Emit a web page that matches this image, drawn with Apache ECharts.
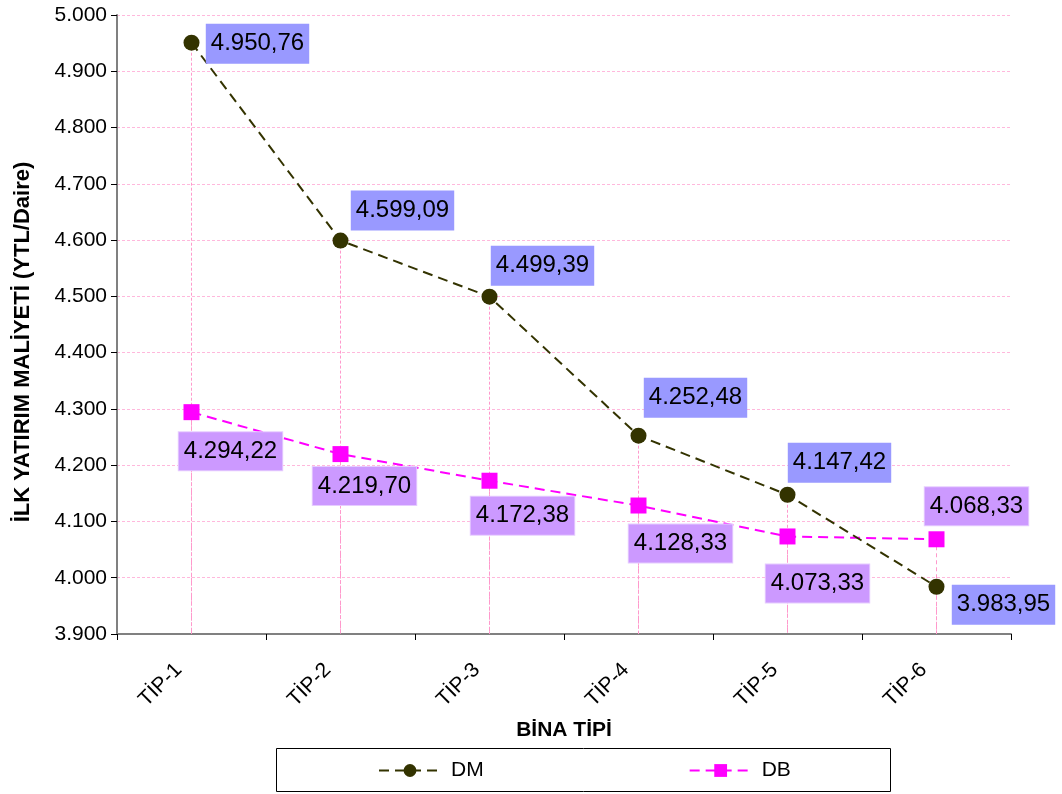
<!DOCTYPE html>
<html>
<head>
<meta charset="utf-8">
<script src="https://cdn.jsdelivr.net/npm/echarts@6/dist/echarts.min.js"></script>
<style>
  html, body { margin: 0; padding: 0; background: #ffffff; }
  #chart { width: 1062px; height: 794px; }
</style>
</head>
<body>
<div id="chart"></div>
<script>
// Building types on the category axis
const categories = ['TİP-1', 'TİP-2', 'TİP-3', 'TİP-4', 'TİP-5', 'TİP-6'];

// Initial investment cost per flat (YTL/Daire)
const dmValues = [4950.76, 4599.09, 4499.39, 4252.48, 4147.42, 3983.95];
const dbValues = [4294.22, 4219.70, 4172.38, 4128.33, 4073.33, 4068.33];

// Value axis range
const yMin = 3900;
const yMax = 5000;
const yStep = 100;

const yTitle = 'İLK YATIRIM MALİYETİ (YTL/Daire)';
const xTitle = 'BİNA TİPİ';

// Label offsets from each marker (label centre relative to point, px)
const dmLabelOffsets = [[66, 1], [62, -30], [53, -31], [57, -38], [52, -32], [67, 18]];
const dbLabelOffsets = [[39, 39], [24, 32], [33, 35], [42, 38], [30, 47], [40, -33]];

const FONT = 'Liberation Sans, Arial, Helvetica, sans-serif';
const DROP_COLOR = '#ff99cc';

function thousands(intStr) {
  return intStr.replace(/\B(?=(\d{3})+(?!\d))/g, '.');
}
function fmtTick(v) {
  return thousands(String(Math.round(v)));
}
function fmtValue(v) {
  const parts = v.toFixed(2).split('.');
  return thousands(parts[0]) + ',' + parts[1];
}

function pointData(values, offsets) {
  return values.map((v, i) => ({
    value: v,
    label: { offset: offsets[i] }
  }));
}

// Drop lines from each point to the category axis
function dropLines(values) {
  return values.map((v, i) => [
    { coord: [i, v], lineStyle: { color: DROP_COLOR } },
    { coord: [i, yMin] }
  ]);
}

const chart = echarts.init(document.getElementById('chart'), null, { renderer: 'canvas' });

const option = {
  backgroundColor: '#ffffff',
  animation: false,
  textStyle: { fontFamily: FONT },
  grid: { left: 117, right: 51, top: 15, bottom: 160, containLabel: false },
  xAxis: {
    type: 'category',
    data: categories,
    boundaryGap: true,
    name: xTitle,
    nameLocation: 'middle',
    nameGap: 86,
    nameTextStyle: { fontFamily: FONT, fontSize: 21, fontWeight: 'bold', color: '#000' },
    axisLine: { lineStyle: { color: '#808080', width: 2 } },
    axisTick: { show: true, alignWithLabel: false, length: 6, lineStyle: { color: '#000', width: 1 } },
    axisLabel: {
      rotate: 45,
      margin: 20,
      padding: [0, 18, 0, 0],
      fontFamily: FONT,
      fontSize: 21,
      color: '#000'
    },
    splitLine: { show: false }
  },
  yAxis: {
    type: 'value',
    min: yMin,
    max: yMax,
    interval: yStep,
    axisLine: { show: true, lineStyle: { color: '#808080', width: 2 } },
    axisTick: { show: true, length: 6, lineStyle: { color: '#000', width: 1 } },
    axisLabel: {
      formatter: fmtTick,
      fontFamily: FONT,
      fontSize: 21,
      color: '#000',
      margin: 10
    },
    splitLine: { show: true, lineStyle: { color: '#ffb8dc', type: [3, 2], width: 1 } }
  },
  legend: {
    left: 378,
    top: 760,
    itemGap: 205,
    itemWidth: 62,
    itemHeight: 16,
    padding: 0,
    textStyle: { fontFamily: FONT, fontSize: 21, color: '#000', padding: [0, 0, 0, 5] },
    data: ['DM', 'DB']
  },
  graphic: [
    {
      type: 'rect',
      shape: { x: 276.5, y: 748.5, width: 614, height: 43 },
      style: { fill: 'none', stroke: '#000', lineWidth: 1 },
      silent: true,
      z: -1
    },
    {
      type: 'text',
      x: 23,
      y: 342,
      rotation: Math.PI / 2,
      style: {
        text: yTitle,
        fill: '#000',
        font: 'bold 22px ' + FONT,
        align: 'center',
        verticalAlign: 'middle'
      },
      silent: true
    }
  ],
  series: [
    {
      name: 'DM',
      type: 'line',
      data: pointData(dmValues, dmLabelOffsets),
      symbol: 'circle',
      symbolSize: 16,
      itemStyle: { color: '#333300' },
      lineStyle: { color: '#333300', width: 2, type: [10, 6] },
      z: 4,
      label: {
        show: true,
        position: 'inside',
        formatter: p => fmtValue(p.value),
        fontFamily: FONT,
        fontSize: 24,
        color: '#000',
        backgroundColor: '#9999ff',
        padding: [9, 5, 7, 5]
      },
      markLine: {
        silent: true,
        symbol: 'none',
        label: { show: false },
        emphasis: { disabled: true },
        lineStyle: { color: DROP_COLOR, type: [3, 2], width: 1, opacity: 1 },
        data: dropLines(dmValues),
        z: 1
      }
    },
    {
      name: 'DB',
      type: 'line',
      data: pointData(dbValues, dbLabelOffsets),
      symbol: 'rect',
      symbolSize: 16,
      itemStyle: { color: '#ff00ff' },
      lineStyle: { color: '#ff00ff', width: 2, type: [10, 6] },
      z: 3,
      label: {
        show: true,
        position: 'inside',
        formatter: p => fmtValue(p.value),
        fontFamily: FONT,
        fontSize: 24,
        color: '#000',
        backgroundColor: '#cc99ff',
        borderColor: '#e6ccff',
        borderWidth: 1,
        padding: [8, 5, 6, 5]
      },
      markLine: {
        silent: true,
        symbol: 'none',
        label: { show: false },
        emphasis: { disabled: true },
        lineStyle: { color: DROP_COLOR, type: [4, 3], width: 1, opacity: 1 },
        data: dropLines(dbValues),
        z: 1
      }
    }
  ]
};

chart.setOption(option);
</script>
</body>
</html>
